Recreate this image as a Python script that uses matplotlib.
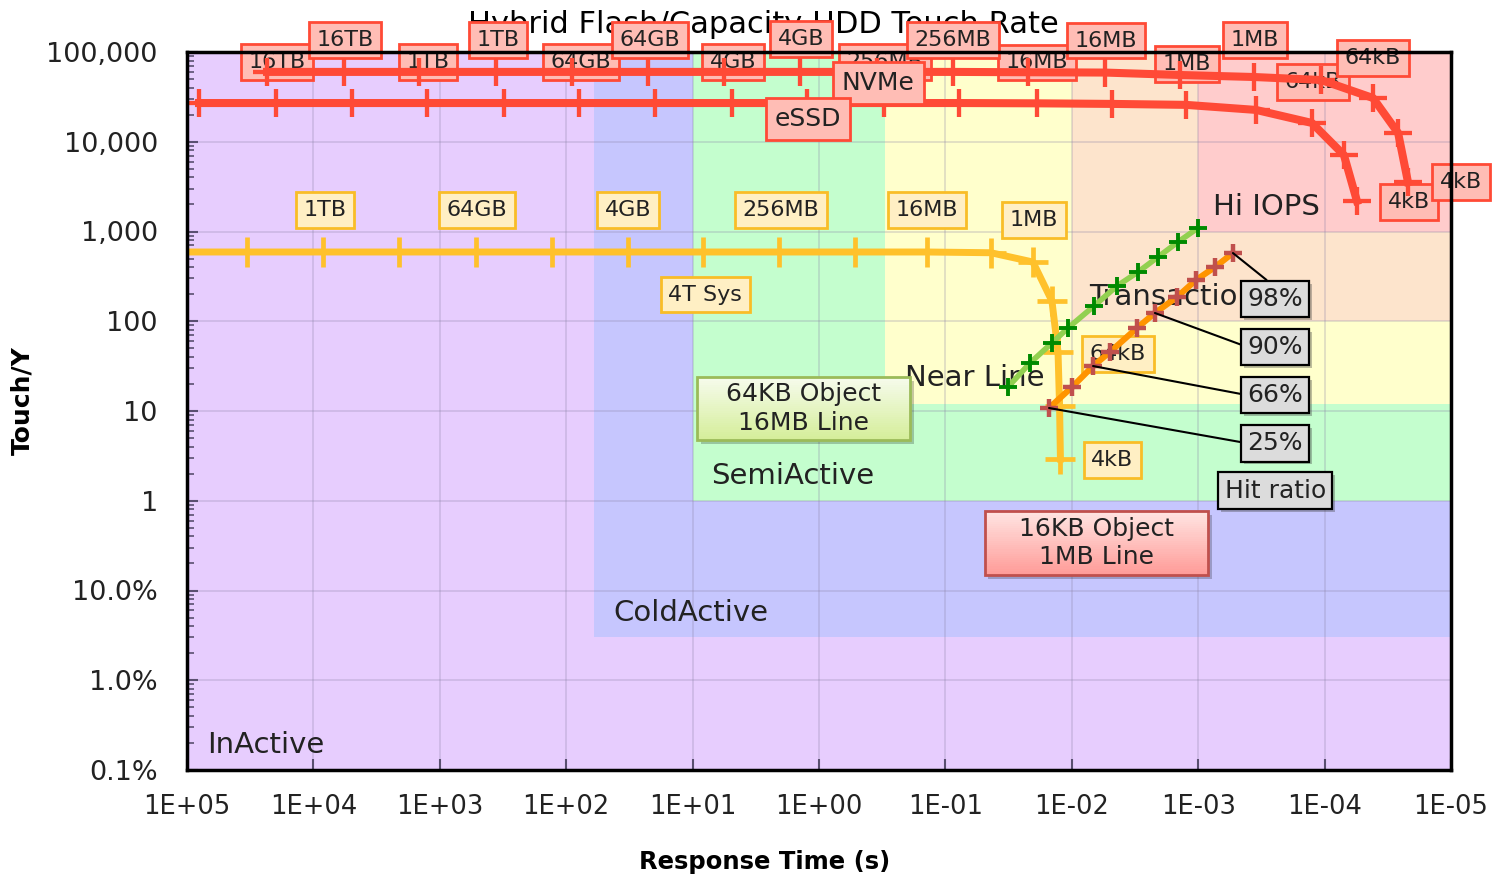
import numpy as np
import matplotlib
matplotlib.use('Agg')
import matplotlib.pyplot as plt
import matplotlib.colors as mcolors
import matplotlib.patheffects as pe
from matplotlib.patches import Rectangle
from matplotlib.ticker import NullFormatter

plt.rcParams['font.family'] = ['DejaVu Sans']

# capacity steps (x4) along the device curves
caps = ['64TB', '16TB', '4TB', '1TB', '256GB', '64GB', '16GB', '4GB', '1GB',
        '256MB', '64MB', '16MB', '4MB', '1MB', '256kB', '64kB', '16kB', '4kB']
label_caps = ['16TB', '1TB', '64GB', '4GB', '256MB', '16MB', '1MB', '64kB', '4kB']

# NVMe (upper red curve)
nvme_rt = [23280, 5728, 1462, 358.9, 89.9, 22.5, 5.65, 1.41, 0.3475, 0.0871,
           0.0222, 0.00546, 0.00139, 0.000362, 0.0001067, 4.14e-5, 2.62e-5, 2.19e-5]
nvme_touch = [60000, 60000, 60000, 60000, 60000, 60000, 60000, 60000, 60000,
              60000, 59500, 59000, 55450, 52650, 48750, 30720, 12520, 3560]

# eSSD (lower red curve)
essd_rt = [80350, 19770, 4955, 1262, 310, 79.3, 19.8, 4.88, 1.245, 0.306,
           0.078, 0.0188, 0.00481, 0.00125, 0.000349, 0.000126, 7.03e-5, 5.55e-5]
essd_touch = [27000, 27000, 27000, 27000, 27000, 27000, 27000, 27000, 27000,
              27000, 27000, 26800, 26400, 25760, 22630, 16200, 7100, 2190]

# 4T Sys HDD (yellow curve), starts at 16TB
hdd_caps = caps[1:]
hdd_rt = [134000, 33500, 8395, 2104, 517.6, 129.4, 32.4, 8.28, 2.07, 0.519,
          0.140, 0.0436, 0.0203, 0.01436, 0.01285, 0.0125, 0.0123]
hdd_touch = [591, 591, 591, 591, 591, 591, 591, 591, 591, 591,
             591, 580, 457, 168, 45.4, 11.4, 2.92]

# hybrid curves
obj64_rt = [0.0320, 0.0214, 0.01436, 0.01072, 0.00667, 0.00439, 0.00299,
            0.00208, 0.001445, 0.001005]
obj64_touch = [18.5, 34.3, 57.3, 84.1, 147.9, 247.2, 354, 520, 764, 1094]
obj16_rt = [0.01514, 0.00995, 0.00679, 0.00499, 0.00305, 0.00220, 0.00147,
            0.00104, 0.000736, 0.000531]
obj16_touch = [10.8, 18.5, 31.7, 45.4, 84.1, 123.6, 186.2, 288.4, 401.8, 575.4]

hit_labels = ['25%', '66%', '90%', '98%']
hit_idx = [0, 2, 5, 9]

# activity zones: slow edge of response time, lower touch rate
zone_names = ['InActive', 'ColdActive', 'SemiActive', 'Near Line', 'Transaction', 'Hi IOPS']
zone_rt = [1e5, 60, 10, 0.3, 0.01, 0.001]
zone_touch = [1e-3, 0.03, 1, 12, 100, 1000]
zone_colors = ['#E7CDFE', '#C6C6FE', '#C4FECE', '#FFFFCC', '#FDE4CC', '#FFCCCC']

xticks = [1e5, 1e4, 1e3, 1e2, 1e1, 1e0, 1e-1, 1e-2, 1e-3, 1e-4, 1e-5]
xtick_labels = ['1E+05', '1E+04', '1E+03', '1E+02', '1E+01', '1E+00',
                '1E-01', '1E-02', '1E-03', '1E-04', '1E-05']
yticks = [1e5, 1e4, 1e3, 1e2, 1e1, 1e0, 1e-1, 1e-2, 1e-3]
ytick_labels = ['100,000', '10,000', '1,000', '100', '10', '1', '10.0%', '1.0%', '0.1%']

red = '#FF4A36'
yellow = '#FFC12B'
red_box = dict(boxstyle='square,pad=0.35', fc='#FFBDB5', ec=red, lw=2)
yel_box = dict(boxstyle='square,pad=0.35', fc='#FFEFC4', ec='#F9BD27', lw=2)

fig = plt.figure(figsize=(14.93, 8.82), dpi=100)
ax = fig.add_axes([187 / 1493, 1 - 770 / 882, 1264 / 1493, 718 / 882])
ax.set_xscale('log')
ax.set_yscale('log')

for name, x0, y0, c in zip(zone_names, zone_rt, zone_touch, zone_colors):
    ax.fill([x0, 1e-5, 1e-5, x0], [y0, y0, 1e5, 1e5], color=c, lw=0, zorder=0)

ax.grid(True, which='major', color='#8C84A8', alpha=0.3, lw=1.2)

# zone names
zone_pos = {'InActive': (0.016, 0.035, 'left'), 'ColdActive': (0.337, 0.219, 'left'),
            'SemiActive': (0.415, 0.409, 'left'), 'Near Line': (0.568, 0.546, 'left'),
            'Transaction': (0.714, 0.659, 'left'), 'Hi IOPS': (0.854, 0.784, 'center')}
for name in zone_names:
    px, py, ha = zone_pos[name]
    ax.text(px, py, name, transform=ax.transAxes, ha=ha, va='center',
            fontsize=21, color='#222222', zorder=1.8)

ax.text(0.456, 1.0265, 'Hybrid Flash/Capacity HDD Touch Rate', transform=ax.transAxes,
        ha='center', va='baseline', fontsize=22, zorder=3, clip_on=False)


def add_cap_labels(rt, touch, names, offsets, style, z):
    for x, y, n in zip(rt, touch, names):
        if n in label_caps and x <= 1e5:
            dx, dy = offsets[label_caps.index(n)]
            ax.annotate(n, (x, y), xytext=(dx, dy), textcoords='offset pixels',
                        ha='center', va='center', fontsize=16, color='#222222',
                        bbox=style, zorder=z, annotation_clip=False)


# HDD curve
ax.plot(hdd_rt, hdd_touch, color=yellow, lw=5, marker='+', ms=22, mew=3.4,
        solid_joinstyle='round', zorder=3.2)
add_cap_labels(hdd_rt, hdd_touch, hdd_caps,
               [(0, 42), (2, 42), (1, 42), (0, 42), (2, 42), (0, 42), (1, 42), (60, -2), (52, -1)],
               yel_box, 3.3)
ax.text(0.410, 0.662, '4T Sys', transform=ax.transAxes, ha='center', va='center',
        fontsize=16, color='#222222', bbox=yel_box, zorder=3.3)

# hybrid curves
ax.plot(obj64_rt, obj64_touch, color='#92D050', lw=4, zorder=3.4)
ax.plot(obj64_rt, obj64_touch, ls='none', marker='+', ms=13, mew=2.8,
        color='#008A00', zorder=3.5)
ax.plot(obj16_rt, obj16_touch, color='#FF9400', lw=4.4, zorder=3.6)
ax.plot(obj16_rt, obj16_touch, ls='none', marker='+', ms=13, mew=3.2,
        color='#C0504D', zorder=3.7)

# eSSD / NVMe curves
ax.plot(essd_rt, essd_touch, color=red, lw=5.8, marker='+', ms=19.5, mew=3.1,
        solid_joinstyle='round', zorder=4)
add_cap_labels(essd_rt, essd_touch, caps,
               [(1, 41), (1, 41), (2, 41), (1, 41), (1, 41), (0, 41), (1, 41), (1, 41), (52, -1)],
               red_box, 5)
ax.plot(nvme_rt, nvme_touch, color=red, lw=5.8, marker='+', ms=19.5, mew=3.1,
        solid_joinstyle='round', zorder=6)
add_cap_labels(nvme_rt, nvme_touch, caps,
               [(1, 32), (2, 32), (2, 32), (1, 33), (0, 32), (1, 32), (1, 37), (0, 40), (53, 0)],
               red_box, 7)

ax.text(0.547, 0.957, 'NVMe', transform=ax.transAxes, ha='center', va='center',
        fontsize=18, color='#222222', bbox=dict(red_box, pad=0.28), zorder=8)
ax.text(0.491, 0.907, 'eSSD', transform=ax.transAxes, ha='center', va='center',
        fontsize=18, color='#222222', bbox=dict(red_box, pad=0.28), zorder=8)


def grad_box(x0, y0, x1, y1, c_top, c_bot, ec, text, z=8):
    ct = np.array(mcolors.to_rgb(c_top))
    cb = np.array(mcolors.to_rgb(c_bot))
    ax.add_patch(Rectangle((x0 + 0.003, y0 - 0.006), x1 - x0, y1 - y0, transform=ax.transAxes,
                           fc='black', alpha=0.22, lw=0, zorder=z - 0.1))
    n = 30
    h = (y1 - y0) / n
    for i in range(n):
        f = i / (n - 1)
        ax.add_patch(Rectangle((x0, y0 + i * h), x1 - x0, h * 1.05, transform=ax.transAxes,
                               fc=cb + (ct - cb) * f, lw=0, zorder=z))
    ax.add_patch(Rectangle((x0, y0), x1 - x0, y1 - y0, transform=ax.transAxes,
                           fill=False, ec=ec, lw=2, zorder=z + 0.1))
    ax.text((x0 + x1) / 2, (y0 + y1) / 2, text, transform=ax.transAxes, ha='center',
            va='center', fontsize=18, color='#222222', linespacing=1.25, zorder=z + 0.2)


grad_box(0.4035, 0.4596, 0.572, 0.5474, '#F6FBEC', '#D5EE9A', '#9BBB59', '64KB Object\n16MB Line')
grad_box(0.631, 0.2716, 0.808, 0.3607, '#FFE4E2', '#FF9C98', '#C0504D', '16KB Object\n1MB Line')

# hit ratio callouts
gray_box = dict(boxstyle='square,pad=0.25', fc='#DCDCDC', ec='black', lw=1.6)
hit_text_y = [0.455, 0.522, 0.589, 0.656]
for lab, i, ty in zip(hit_labels, hit_idx, hit_text_y):
    rp = (0.5, 1.0) if lab == '98%' else (0.0, 0.5)
    ann = ax.annotate(lab, (obj16_rt[i], obj16_touch[i]), xytext=(0.861, ty),
                      textcoords='axes fraction', ha='center', va='center', fontsize=18,
                      color='#222222', bbox=gray_box, zorder=8,
                      arrowprops=dict(arrowstyle='-', color='black', lw=1.5,
                                      shrinkA=0, shrinkB=0, relpos=rp))
    ann.get_bbox_patch().set_path_effects([pe.withSimplePatchShadow(offset=(2, -2), alpha=0.35)])
t = ax.text(0.861, 0.389, 'Hit ratio', transform=ax.transAxes, ha='center', va='center',
            fontsize=18, color='#222222', bbox=gray_box, zorder=8)
t.get_bbox_patch().set_path_effects([pe.withSimplePatchShadow(offset=(2, -2), alpha=0.35)])

ax.set_xlim(1e5, 1e-5)
ax.set_ylim(1e-3, 1e5)
ax.set_xticks(xticks)
ax.set_xticklabels(xtick_labels)
ax.set_yticks(yticks)
ax.set_yticklabels(ytick_labels)
ax.xaxis.set_minor_formatter(NullFormatter())
ax.yaxis.set_minor_formatter(NullFormatter())
ax.tick_params(which='both', direction='in', color='#5A5070')
ax.tick_params(which='major', length=8, width=1.5, labelsize=18.5, labelcolor='#222222')
ax.tick_params(axis='y', which='major', labelsize=19.5)
ax.tick_params(which='minor', length=5, width=1.2)
ax.tick_params(axis='y', which='major', pad=21)
ax.tick_params(axis='x', which='major', pad=17)

for s in ax.spines.values():
    s.set_linewidth(2.5)
    s.set_zorder(9)

ax.set_xlabel('Response Time (s)', fontsize=17.5, fontweight='bold')
ax.xaxis.set_label_coords(0.457, -0.128)
ax.xaxis.label.set_va('center')
ax.set_ylabel('Touch/Y', fontsize=18, fontweight='bold')
ax.yaxis.set_label_coords(-0.1305, 0.515)
ax.yaxis.label.set_va('center')

fig.savefig('out.png', dpi=100)
